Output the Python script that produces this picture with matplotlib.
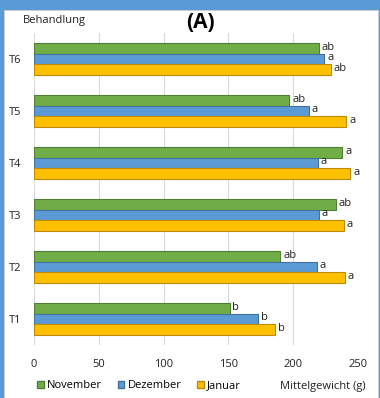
import matplotlib
matplotlib.use("Agg")
import matplotlib.pyplot as plt
import matplotlib.patches as mpatches
import numpy as np

plt.rcParams["font.family"] = ["Open Sans", "DejaVu Sans"]

# ---- data ----
treatments = ["T1", "T2", "T3", "T4", "T5", "T6"]
november = [151, 190, 233, 238, 197, 220]
dezember = [173, 218, 220, 219, 212, 224]
januar = [186, 240, 239, 244, 241, 229]
letters_nov = ["b", "ab", "ab", "a", "ab", "ab"]
letters_dez = ["b", "a", "a", "a", "a", "a"]
letters_jan = ["b", "a", "a", "a", "a", "ab"]

series = [
    ("November", november, letters_nov, "#70AD47", "#507E32", 0.2),
    ("Dezember", dezember, letters_dez, "#5B9BD5", "#41719C", 0.0),
    ("Januar", januar, letters_jan, "#FFC000", "#BC8C00", -0.2),
]
FS = 8

fig = plt.figure(figsize=(3.8, 3.98), dpi=100)
fig.patch.set_facecolor("#5B9BD5")

# white panel inside the blue frame
panel = mpatches.Rectangle((4 / 380, 0), 374 / 380, 1 - 10 / 398,
                           transform=fig.transFigure, facecolor="white",
                           edgecolor="#D0D0D0", linewidth=0.6, zorder=-10)
fig.patches.append(panel)

ax = fig.add_axes([34 / 380, 1 - 345 / 398, 324 / 380, 312 / 398])
ax.set_facecolor("none")

y = np.arange(len(treatments))
bar_h = 0.2
for name, vals, lets, color, edge, off in series:
    ax.barh(y + off, vals, height=bar_h, color=color, edgecolor=edge,
            linewidth=0.8, zorder=3)
    for yi, v, t in zip(y, vals, lets):
        ax.annotate(t, (v, yi + off), xytext=(2, 1), textcoords="offset points",
                    ha="left", va="center", fontsize=FS, color="#222222")

ax.set_xlim(0, 250)
ax.set_ylim(-0.5, len(treatments) - 0.5)
ax.set_xticks(np.arange(0, 251, 50))
ax.set_yticks(y)
ax.set_yticklabels(treatments)
ax.tick_params(axis="both", length=0, labelsize=FS, colors="#222222")
ax.tick_params(axis="x", pad=10)
ax.tick_params(axis="y", pad=9)
ax.grid(axis="x", color="#D9D9D9", linewidth=0.8, zorder=0)
for s in ax.spines.values():
    s.set_visible(False)

fig.text(23 / 380, 1 - 20 / 398, "Behandlung", fontsize=FS, va="center",
         ha="left", color="#222222")
fig.text(200 / 380, 1 - 23 / 398, "(A)", fontsize=15, fontweight="bold",
         va="center", ha="center")

# legend along the bottom
handles = [mpatches.Patch(facecolor=c, edgecolor=e, label=n)
           for n, _, _, c, e, _ in series]
fig.legend(handles=handles, loc="center left",
           bbox_to_anchor=(37 / 380, 1 - 386 / 398), ncol=3, frameon=False,
           fontsize=FS, handlelength=0.6, handleheight=0.6, handletextpad=0.3,
           columnspacing=1.4, borderaxespad=0, borderpad=0)
fig.text(366 / 380, 1 - 386 / 398, "Mittelgewicht (g)", fontsize=FS,
         ha="right", va="center", color="#222222")

fig.savefig("out.png", dpi=100, facecolor=fig.get_facecolor())
